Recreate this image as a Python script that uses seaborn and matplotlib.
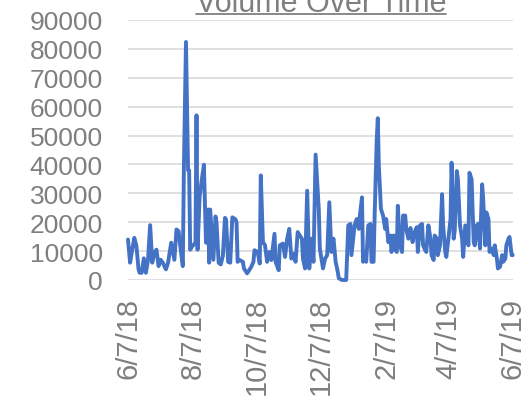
import pandas as pd
import matplotlib
matplotlib.use('Agg')  # no display
import matplotlib.pyplot as plt
import seaborn as sns
from matplotlib.lines import Line2D

# Data (days since 6/7/18, daily volume)
start_date = "2018-06-07"
day_offsets = [
    0, 2, 4, 6, 8, 10, 11, 13, 15, 17, 19, 21, 23, 25, 27, 29, 31, 33, 36, 38,
    41, 44, 46, 48, 50, 52, 53, 55, 57, 58, 59, 61, 64, 65, 66, 68, 70, 72, 74, 76,
    77, 78, 81, 83, 84, 86, 88, 90, 92, 93, 95, 97, 99, 102, 103, 104, 106, 109, 110, 113,
    115, 117, 119, 120, 123, 125, 126, 128, 130, 132, 134, 136, 139, 140, 143, 144, 147, 149, 151, 153,
    155, 157, 159, 161, 163, 165, 166, 168, 170, 172, 174, 176, 178, 181, 182, 184, 185, 187, 189, 191,
    193, 194, 195, 197, 199, 200, 203, 207, 209, 211, 212, 215, 217, 219, 220, 222, 223, 225, 226, 228,
    230, 231, 233, 234, 236, 237, 238, 240, 242, 244, 245, 247, 249, 250, 252, 253, 255, 256, 258, 260,
    261, 263, 264, 266, 268, 270, 272, 274, 275, 277, 279, 280, 282, 283, 285, 287, 288, 290, 291, 293,
    294, 296, 298, 299, 301, 302, 304, 306, 307, 309, 310, 312, 313, 315, 317, 318, 320, 321, 323, 324,
    326, 328, 329, 331, 332, 334, 336, 337, 339, 340, 342, 343, 345, 347, 348, 350, 351, 353, 355, 356,
    358, 359, 361, 362, 364, 365,
]
volume = [
    14000, 6000, 10500, 14600, 11700, 3700, 2500, 2500, 7500, 2500, 7000, 19000, 6000, 9400, 10500, 4800, 7000, 6000, 3700, 6000,
    12900, 7000, 17500, 16900, 10500, 4800, 38000, 82400, 38000, 38000, 10500, 11700, 12900, 57000, 10500, 29000, 34700, 39900, 12900, 24400,
    6000, 24400, 7000, 22000, 19800, 6000, 5400, 8300, 21500, 21000, 6300, 6000, 21700, 21000, 20000, 6300, 6900, 6300, 4000, 2300,
    3400, 4600, 6300, 10300, 9700, 5700, 36200, 13100, 12000, 6300, 9700, 6900, 16000, 6300, 3400, 12000, 12600, 8000, 14300, 17700,
    7400, 9100, 6300, 16600, 15400, 14300, 7400, 4000, 30900, 4000, 14300, 6300, 43400, 24600, 10900, 6300, 4000, 7400, 8600, 26900,
    9700, 13100, 14300, 6300, 2900, 600, 0, 0, 18900, 19400, 8600, 18900, 21100, 17700, 22300, 28600, 6300, 7400, 6300, 18900,
    19400, 6300, 6300, 22300, 48600, 56000, 39400, 24600, 22300, 17700, 21100, 13100, 15400, 9700, 15400, 10900, 9700, 25700, 12000, 9700,
    22300, 22300, 17700, 14300, 18000, 13100, 16600, 18300, 9700, 18900, 19400, 12000, 10300, 9700, 18900, 14300, 8600, 6900, 15400, 14300,
    8600, 12000, 29700, 18900, 9700, 8000, 14300, 21100, 40600, 14300, 17100, 37700, 34900, 18900, 14300, 8000, 18900, 16600, 12000, 37100,
    34900, 13100, 12000, 18900, 19400, 10900, 33100, 28000, 12000, 23400, 21100, 9700, 10900, 8600, 12000, 7400, 4000, 4600, 8600, 6300,
    7400, 12000, 14300, 14900, 8600, 8600,
]
tick_dates = ["2018-06-07", "2018-08-07", "2018-10-07", "2018-12-07",
              "2019-02-07", "2019-04-07", "2019-06-07"]
tick_labels = ["6/7/18", "8/7/18", "10/7/18", "12/7/18", "2/7/19", "4/7/19", "6/7/19"]
y_ticks = [0, 10000, 20000, 30000, 40000, 50000, 60000, 70000, 80000, 90000]
title = "Volume Over Time"

df = pd.DataFrame({
    "Date": pd.Timestamp(start_date) + pd.to_timedelta(day_offsets, unit="D"),
    "Volume": volume,
})

sns.set_theme(style="white")
plt.rcParams['font.family'] = ['Liberation Sans', 'DejaVu Sans']
grey = "#7f7f7f"

fig = plt.figure(figsize=(5.28, 4.02), dpi=100)
ax = fig.add_axes([128 / 528, 1 - 281 / 402, (512.7 - 128) / 528, 260 / 402])

sns.lineplot(data=df, x="Date", y="Volume", ax=ax, color="#4472C4", linewidth=2.8)
for line in ax.lines:
    line.set_clip_on(False)
    line.set_solid_joinstyle('round')
    line.set_solid_capstyle('round')

ax.set_xlim(pd.Timestamp(tick_dates[0]), pd.Timestamp(tick_dates[-1]))
ax.set_ylim(0, 90000)
ax.set_yticks(y_ticks)
ax.set_yticklabels([str(v) for v in y_ticks])
ax.set_xticks(pd.to_datetime(tick_dates))
ax.set_xticklabels(tick_labels, rotation=90)
ax.set_xlabel("")
ax.set_ylabel("")

# horizontal gridlines only, no spines
ax.yaxis.grid(True, color="#d9d9d9", linewidth=1.2)
ax.xaxis.grid(False)
ax.set_axisbelow(True)
for s in ax.spines.values():
    s.set_visible(False)
ax.tick_params(axis='y', length=0, pad=18, labelsize=19, labelcolor=grey)
ax.tick_params(axis='x', length=0, pad=12, labelsize=21, labelcolor=grey)

# underlined title, clipped at the top like the original
t = fig.text(321 / 528, 1 - 12.5 / 402, title, ha='center', va='baseline',
             fontsize=22, color=grey)
fig.canvas.draw()
bb = t.get_window_extent(fig.canvas.get_renderer())
uy = 1 - 15 / 402
fig.add_artist(Line2D([bb.x0 / 528, bb.x1 / 528], [uy, uy], color=grey,
                      linewidth=1.3, transform=fig.transFigure))

fig.savefig("out.png", dpi=100)
plt.close()
